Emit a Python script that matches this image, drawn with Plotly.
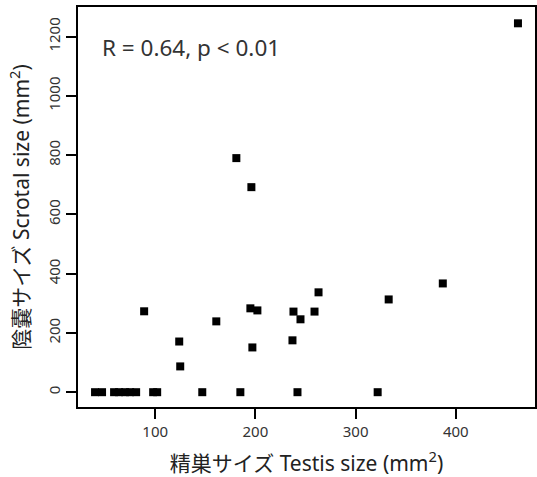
import plotly.graph_objects as go

testis_size = [40, 47, 59, 64, 70, 75, 81, 98, 102, 147, 185, 242, 322,
               89, 124, 125, 161, 181, 196, 195, 202, 197, 238, 245, 237,
               259, 263, 333, 387, 462]
scrotal_size = [0, 0, 0, 0, 0, 0, 0, 0, 0, 0, 0, 0, 0,
                273, 171, 87, 239, 790, 692, 283, 276, 151, 272, 246, 175,
                272, 337, 313, 367, 1245]
x_ticks = [100, 200, 300, 400]
y_ticks = [0, 200, 400, 600, 800, 1000, 1200]
stat_label = "R = 0.64, p < 0.01"

FONT = "Noto Sans, Noto Sans CJK JP, sans-serif"

fig = go.Figure(go.Scatter(
    x=testis_size, y=scrotal_size, mode="markers",
    marker=dict(symbol="square", size=8, color="black", line=dict(width=0)),
    hoverinfo="x+y",
))

fig.add_annotation(
    x=45, y=1165, xref="x", yref="y", text=stat_label, showarrow=False,
    xanchor="left", yanchor="middle",
    font=dict(family=FONT, size=22.5, color="#333333"),
)

axis_common = dict(
    showline=True, mirror=True, linecolor="black", linewidth=2,
    ticks="outside", ticklen=10, tickwidth=2, tickcolor="black",
    showgrid=False, zeroline=False, automargin=False,
    tickfont=dict(family=FONT, size=15, color="#333333"),
)

fig.update_layout(
    width=537, height=477,
    margin=dict(l=78, r=2, t=7, b=70),
    paper_bgcolor="white", plot_bgcolor="white",
    showlegend=False,
    xaxis=dict(
        range=[23, 479], tickvals=x_ticks,
        title=dict(text="精巣サイズ Testis size (mm<sup>2</sup>)",
                   font=dict(family=FONT, size=21, color="#222222"), standoff=17),
        **axis_common,
    ),
    yaxis=dict(
        range=[-50, 1300], tickvals=y_ticks, tickangle=-90,
        title=dict(text="陰嚢サイズ Scrotal size (mm<sup>2</sup>)",
                   font=dict(family=FONT, size=21, color="#222222"), standoff=9),
        **axis_common,
    ),
)

fig.write_html("out.html",
               config={"displayModeBar": False},
               post_script="document.body.style.margin='0';document.body.style.overflow='hidden';")
